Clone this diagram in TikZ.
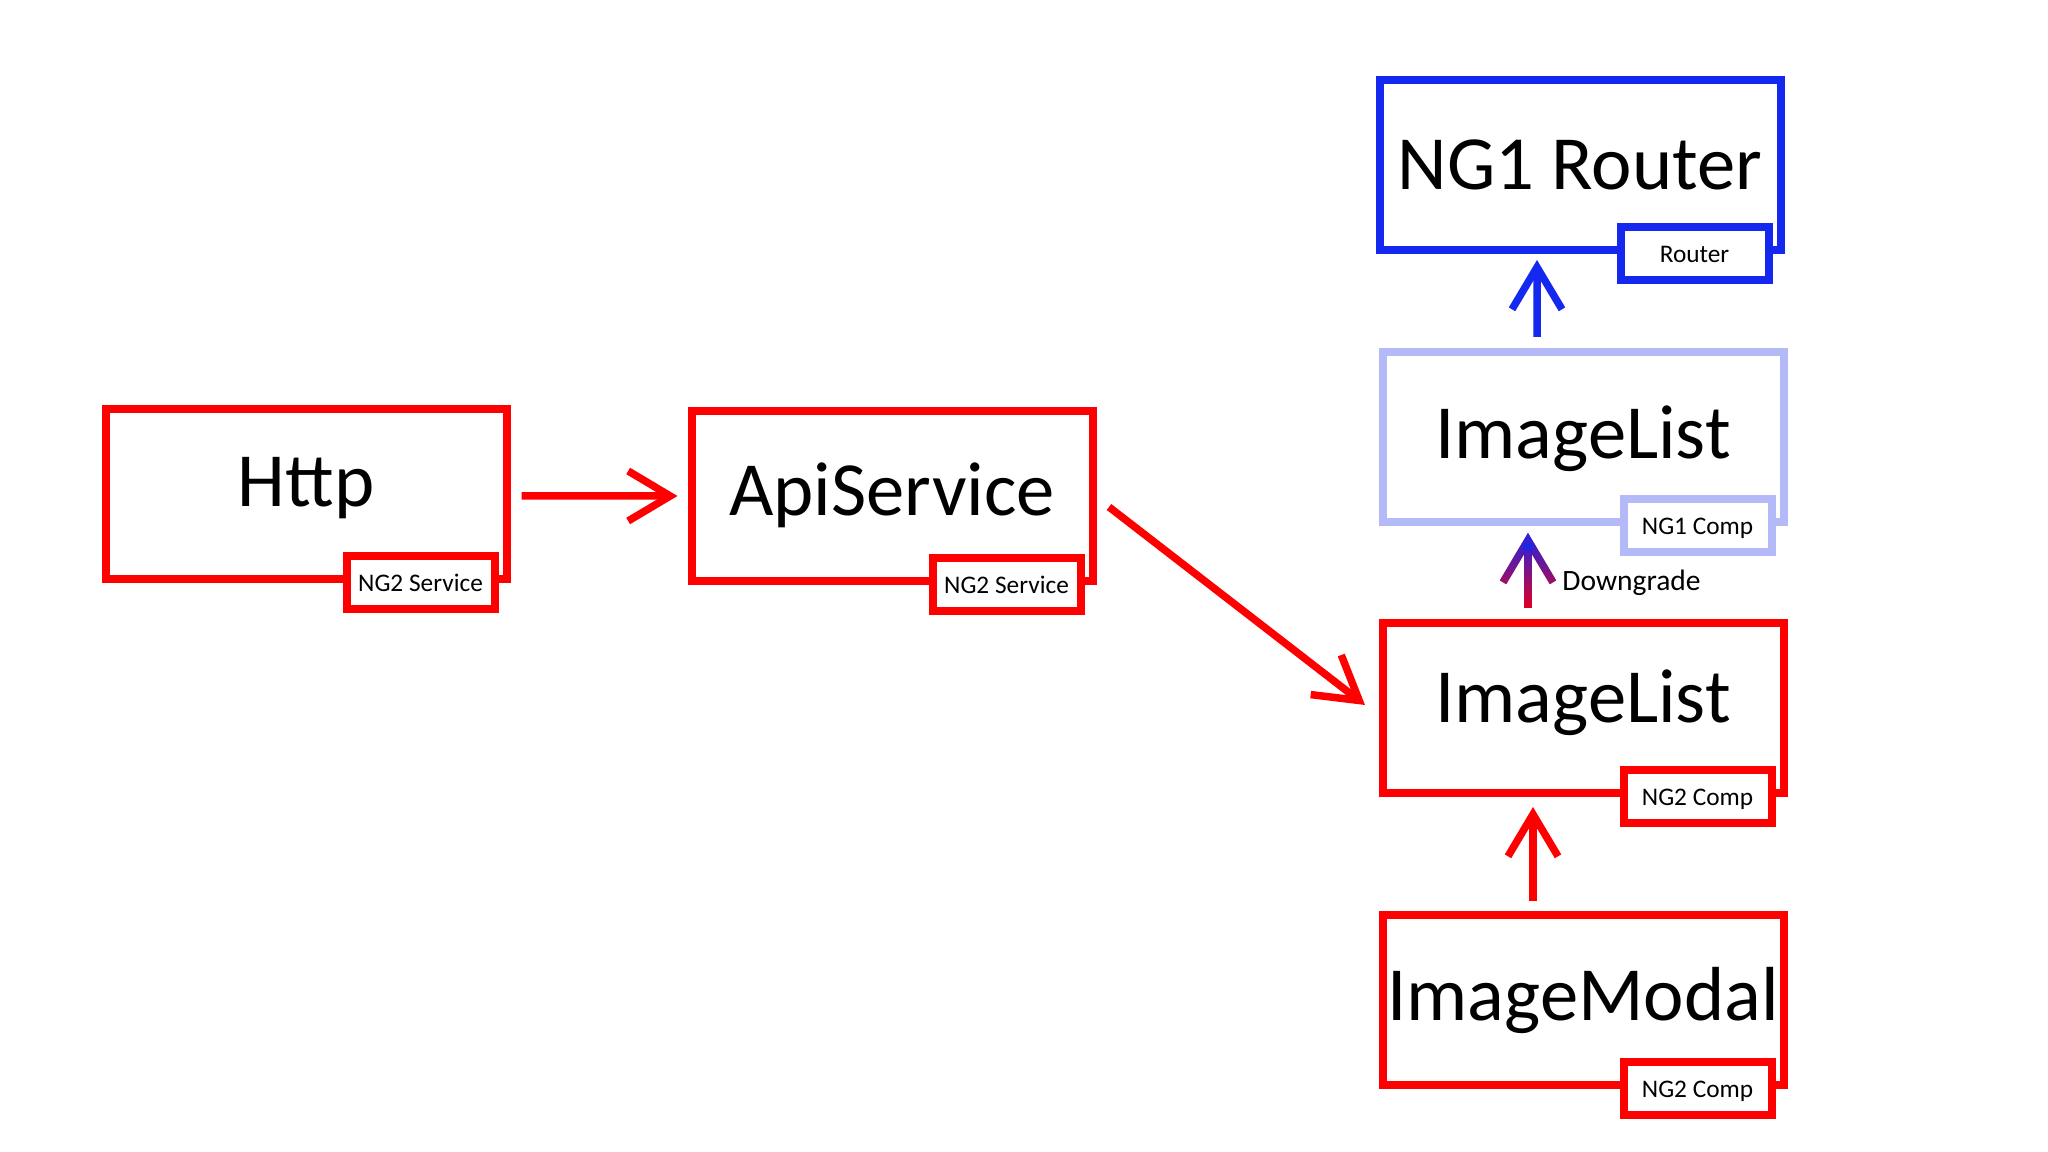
\documentclass[tikz,border=0pt]{standalone}
\usepackage{fontspec}
\setmainfont{Carlito}
\usepackage{xcolor}
\usepackage{tikz}
\usetikzlibrary{arrows.meta,fadings}
\definecolor{ngred}{RGB}{230,0,30}
\definecolor{ngblue}{RGB}{20,40,240}
\definecolor{nglight}{RGB}{180,186,248}
\tikzstyle{comp}=[draw,line width=0.08cm,minimum width=4.01cm,minimum height=1.70cm,inner sep=0pt,font=\fontsize{21.8}{25}\selectfont,text height=14pt,text depth=0pt]
\tikzstyle{tag}=[draw,fill=white,line width=0.08cm,minimum width=1.48cm,minimum height=0.53cm,inner sep=0pt,font=\fontsize{7.2}{8}\selectfont,text height=4.6pt,text depth=0pt]
\tikzstyle{link}=[line width=0.075cm,-{Straight Barb[length=0.42cm,width=0.5cm]}]

\begin{document}
\begin{tikzpicture}
	\useasboundingbox[fill=white] (0,0) rectangle (20.48,11.52);
	\node[comp,draw=red,text depth=0.24cm] (http) at (3.06,6.58) {Http};
	\node[tag,draw=red] (httptag) at ([xshift=-0.9cm]http.south east) {NG2 Service};
	\node[comp,draw=red,text depth=0.1cm] (api) at (8.92,6.56) {ApiService};
	\node[tag,draw=red] (apitag) at ([xshift=-0.9cm]api.south east) {NG2 Service};
	\node[comp,draw=ngblue] (router) at (15.80,9.87) {NG1 Router};
	\node[tag,draw=ngblue] (routertag) at ([xshift=-0.9cm]router.south east) {Router};
	\node[comp,draw=nglight,text depth=0.06cm] (ng1list) at (15.83,7.15) {ImageList};
	\node[tag,draw=nglight] (ng1listtag) at ([xshift=-0.9cm]ng1list.south east) {NG1 Comp};
	\node[comp,draw=red,text depth=0.2cm] (ng2list) at (15.83,4.44) {ImageList};
	\node[tag,draw=red] (ng2listtag) at ([xshift=-0.9cm]ng2list.south east) {NG2 Comp};
	\node[comp,draw=red,text depth=0.08cm] (modal) at (15.83,1.52) {ImageModal};
	\node[tag,draw=red] (modaltag) at ([xshift=-0.9cm]modal.south east) {NG2 Comp};

	\draw[link,draw=red] ([xshift=0.11cm,yshift=-0.02cm]http.east) -- ([xshift=-0.1cm]api.west);
	\draw[link,draw=red] ([xshift=0.125cm,yshift=-0.11cm]api.east) -- ([xshift=-0.135cm,yshift=0.03cm]ng2list.west);
	\draw[link,draw=red] ([xshift=-0.5cm,yshift=0.1cm]modal.north) -- ([xshift=-0.5cm,yshift=-0.1cm]ng2list.south);
	\draw[link,draw=ngred] ([xshift=-0.55cm,yshift=0.11cm]ng2list.north) -- ([xshift=-0.55cm,yshift=-0.07cm]ng1list.south)
		node[pos=0.33,right,xshift=0.19cm,font=\fontsize{8.4}{9}\selectfont] (downgrade) {Downgrade};
	\draw[link,draw=ngblue,path fading=south,fit fading=false,fading transform={shift={(15.28,5.815)},yscale=0.45}] ([xshift=-0.55cm,yshift=0.11cm]ng2list.north) -- ([xshift=-0.55cm,yshift=-0.07cm]ng1list.south);
	\draw[link,draw=ngblue] ([xshift=-0.46cm,yshift=0.11cm]ng1list.north) -- ([xshift=-0.43cm,yshift=-0.06cm]router.south);
\end{tikzpicture}
\end{document}
